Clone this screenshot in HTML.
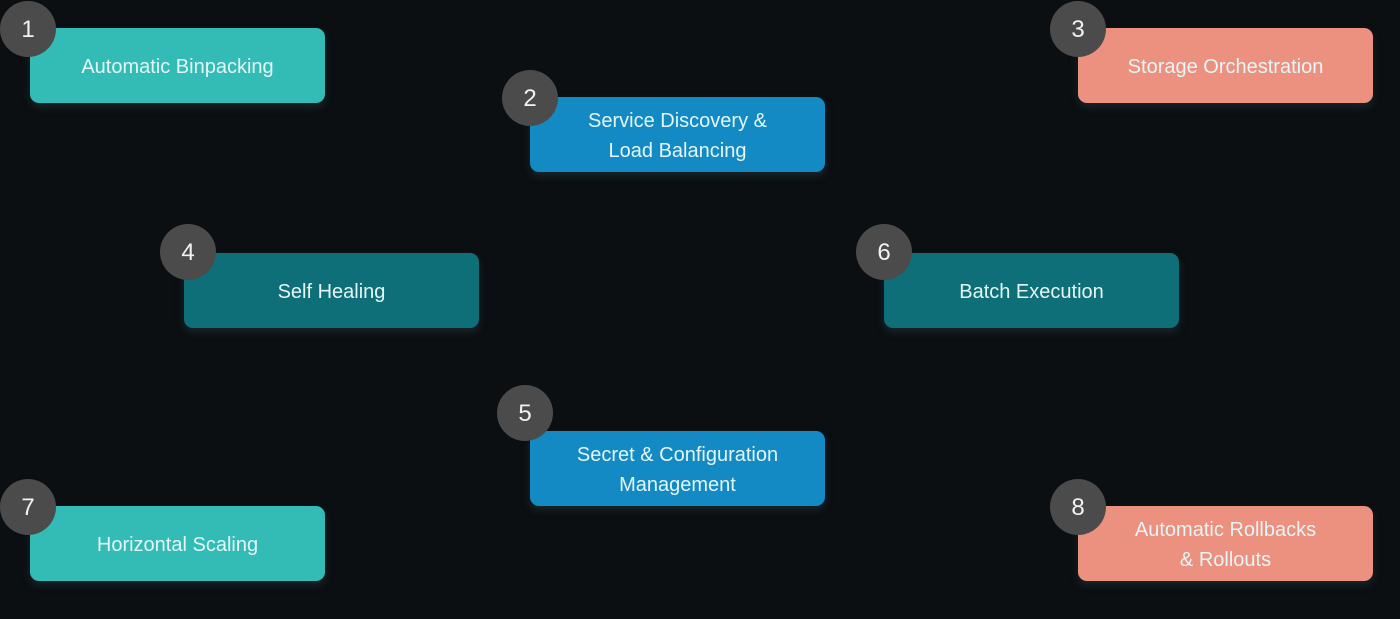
<!DOCTYPE html>
<html><head><meta charset="utf-8"><style>
body{margin:0;width:1400px;height:619px;background:#0b0f12;position:relative;overflow:hidden;font-family:"Liberation Sans","DejaVu Sans",sans-serif}
.b{position:absolute;width:295px;height:75px;box-sizing:border-box;padding-top:3px;border-radius:9px;display:flex;align-items:center;justify-content:center;text-align:center;color:#e4f6f6;font-size:20px;line-height:30px;box-shadow:0 4px 8px rgba(40,60,70,.5)}
.t{background:#33bbb6}.bl{background:#138ac3}.d{background:#0e6f79}.s{background:#ec907f}
.c{position:absolute;width:56px;height:56px;box-sizing:border-box;padding-top:2px;border-radius:50%;background:#4b4b4b;color:#f2f2f2;font-size:24px;display:flex;align-items:center;justify-content:center;margin:-28px 0 0 -28px}
</style></head><body>
<div class="b t" style="left:30px;top:28px">Automatic Binpacking</div><div class="c" style="left:28px;top:29px">1</div>
<div class="b bl" style="left:530px;top:97px">Service Discovery &amp;<br>Load Balancing</div><div class="c" style="left:530px;top:98px">2</div>
<div class="b s" style="left:1078px;top:28px">Storage Orchestration</div><div class="c" style="left:1078px;top:29px">3</div>
<div class="b d" style="left:184px;top:253px">Self Healing</div><div class="c" style="left:188px;top:252px">4</div>
<div class="b d" style="left:884px;top:253px">Batch Execution</div><div class="c" style="left:884px;top:252px">6</div>
<div class="b bl" style="left:530px;top:431px">Secret &amp; Configuration<br>Management</div><div class="c" style="left:525px;top:413px">5</div>
<div class="b t" style="left:30px;top:506px">Horizontal Scaling</div><div class="c" style="left:28px;top:507px">7</div>
<div class="b s" style="left:1078px;top:506px">Automatic Rollbacks<br>&amp; Rollouts</div><div class="c" style="left:1078px;top:507px">8</div>
</body></html>
